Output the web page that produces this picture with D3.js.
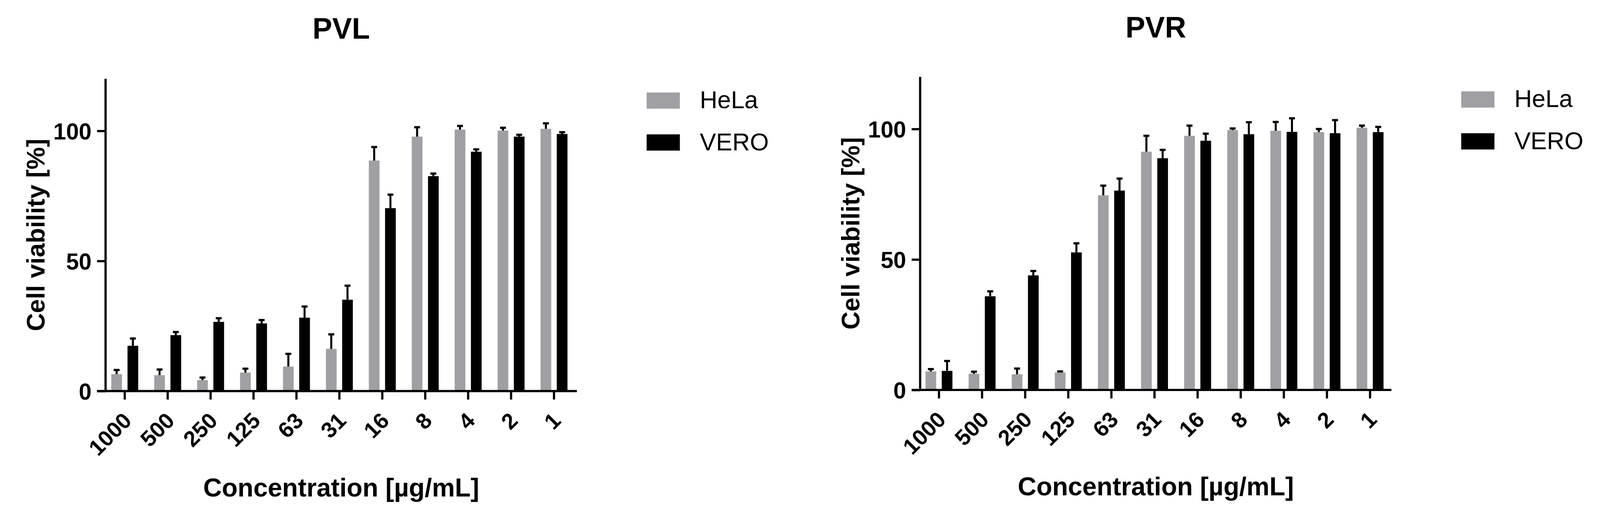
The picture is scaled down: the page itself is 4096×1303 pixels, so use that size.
<!DOCTYPE html>
<html>
<head>
<meta charset="utf-8">
<script src="https://cdn.jsdelivr.net/npm/d3@7"></script>
<style>
  html, body { margin: 0; padding: 0; background: #fff; }
  svg { display: block; }
  text { font-family: "Liberation Sans", Arial, Helvetica, sans-serif; }
</style>
</head>
<body>
<svg id="chart" width="4096" height="1303"></svg>
<script>
// ---------------- data ----------------
const concentrations = ["1000", "500", "250", "125", "63", "31", "16", "8", "4", "2", "1"];
const seriesNames = ["HeLa", "VERO"];
const seriesColors = ["#a0a0a4", "#000000"];
const yTicks = [0, 50, 100];

const pvlHeLa    = [6.5, 6.1, 4.2, 7.1, 9.4, 16.2, 88.6, 97.8, 100.5, 100.1, 100.8];
const pvlHeLaErr = [1.6, 2.2, 1.0, 1.5, 4.9, 5.6, 5.2, 3.6, 1.4, 1.1, 2.1];
const pvlVero    = [17.4, 21.5, 26.6, 26.0, 28.2, 35.1, 70.3, 82.6, 92.0, 97.8, 98.8];
const pvlVeroErr = [2.8, 1.2, 1.4, 1.3, 4.3, 5.4, 5.2, 1.0, 0.9, 0.7, 0.7];

const pvrHeLa    = [7.1, 6.2, 6.0, 6.7, 74.6, 91.3, 97.4, 99.6, 99.3, 98.8, 100.5];
const pvrHeLaErr = [0.9, 0.8, 2.2, 0.4, 3.7, 6.1, 3.9, 0.6, 3.4, 1.2, 0.8];
const pvrVero    = [7.3, 35.9, 43.9, 52.7, 76.4, 88.8, 95.5, 98.0, 98.9, 98.4, 98.8];
const pvrVeroErr = [3.8, 1.9, 1.7, 3.5, 4.6, 3.2, 2.7, 4.6, 5.2, 5.0, 2.0];

const panels = [
  { title: "PVL", values: [pvlHeLa, pvlVero], errors: [pvlHeLaErr, pvlVeroErr],
    axisX: 286, y0: 1059.5, y100: 354.6, firstCenter: 338, step: 116.3, axisEnd: 1563 },
  { title: "PVR", values: [pvrHeLa, pvrVero], errors: [pvrHeLaErr, pvrVeroErr],
    axisX: 2493, y0: 1056.5, y100: 349.5, firstCenter: 2544, step: 116.8, axisEnd: 3770 }
];

// ---------------- drawing ----------------
const REF_W = 4335;
const S = 4096 / REF_W;
const svg = d3.select("#chart");
const root = svg.append("g").attr("transform", `scale(${S})`);

const LW = 6;        // axis line width
const TICK = 23;     // tick length
const BAR_W = 29, BAR_GAP = 15;

panels.forEach(p => {
  const g = root.append("g");
  const yMaxPx = p.y0 - (p.y0 - p.y100) * 1.2;
  const y = d3.scaleLinear().domain([0, 120]).range([p.y0, yMaxPx]);

  const x0 = p.firstCenter - p.step / 2;
  const x = d3.scaleBand().domain(concentrations)
    .range([x0, x0 + concentrations.length * p.step]).padding(0);

  const innerStep = BAR_W + BAR_GAP;
  const pIn = BAR_GAP / innerStep;
  const pOut = (p.step / innerStep - 2 + pIn) / 2;
  const xs = d3.scaleBand().domain(seriesNames).range([0, x.bandwidth()])
    .paddingInner(pIn).paddingOuter(pOut);

  // bars
  seriesNames.forEach((s, si) => {
    const data = concentrations.map((c, i) => ({ c, v: p.values[si][i], e: p.errors[si][i] }));
    g.append("g").selectAll("rect").data(data).join("rect")
      .attr("x", d => x(d.c) + xs(s))
      .attr("width", xs.bandwidth())
      .attr("y", d => y(d.v))
      .attr("height", d => y(0) - y(d.v))
      .attr("fill", seriesColors[si]);

    // error bars (upper only, Prism style)
    const eg = g.append("g").attr("stroke", "#000");
    eg.selectAll("line.stem").data(data).join("line")
      .attr("class", "stem")
      .attr("x1", d => x(d.c) + xs(s) + xs.bandwidth() / 2)
      .attr("x2", d => x(d.c) + xs(s) + xs.bandwidth() / 2)
      .attr("y1", d => y(d.v))
      .attr("y2", d => y(d.v + d.e))
      .attr("stroke-width", 5.5);
    eg.selectAll("line.cap").data(data).join("line")
      .attr("class", "cap")
      .attr("x1", d => x(d.c) + xs(s) + xs.bandwidth() / 2 - 8)
      .attr("x2", d => x(d.c) + xs(s) + xs.bandwidth() / 2 + 8)
      .attr("y1", d => y(d.v + d.e))
      .attr("y2", d => y(d.v + d.e))
      .attr("stroke-width", 6);
  });

  // y axis
  const yAxis = d3.axisLeft(y).tickValues(yTicks).tickSize(TICK).tickSizeOuter(0).tickPadding(15);
  const ya = g.append("g").attr("transform", `translate(${p.axisX},0)`).call(yAxis);
  ya.select(".domain").remove();
  ya.selectAll(".tick line").attr("stroke", "#000").attr("stroke-width", LW);
  ya.selectAll(".tick text").attr("font-size", 62).attr("font-weight", "bold").attr("fill", "#000")
    .attr("dy", "0.36em");
  g.append("line").attr("x1", p.axisX).attr("x2", p.axisX)
    .attr("y1", y(0) + LW / 2).attr("y2", y(120))
    .attr("stroke", "#000").attr("stroke-width", LW);

  // x axis
  const xAxis = d3.axisBottom(x).tickSize(TICK).tickSizeOuter(0).tickPadding(0);
  const xa = g.append("g").attr("transform", `translate(0,${p.y0})`).call(xAxis);
  xa.select(".domain").remove();
  xa.selectAll(".tick line").attr("stroke", "#000").attr("stroke-width", LW);
  xa.selectAll(".tick text")
    .attr("font-size", 60).attr("font-weight", "bold").attr("fill", "#000")
    .attr("text-anchor", "end")
    .attr("y", 0).attr("dy", 0)
    .attr("transform", "translate(22,84) rotate(-45)");
  g.append("line").attr("x1", p.axisX - TICK).attr("x2", p.axisEnd)
    .attr("y1", p.y0).attr("y2", p.y0)
    .attr("stroke", "#000").attr("stroke-width", LW);

  const cx = (p.axisX + p.axisEnd) / 2;
  // title
  g.append("text").attr("x", cx).attr("y", p.y0 - 955)
    .attr("text-anchor", "middle").attr("font-size", 80).attr("font-weight", "bold")
    .text(p.title);

  // y axis title
  const cy = (y(0) + y(120)) / 2;
  g.append("text")
    .attr("transform", `translate(${p.axisX - 165},${cy}) rotate(-90)`)
    .attr("text-anchor", "middle").attr("font-size", 68).attr("font-weight", "bold")
    .text("Cell viability [%]");

  // x axis title
  g.append("text").attr("x", cx).attr("y", p.y0 + 286)
    .attr("text-anchor", "middle").attr("font-size", 70).attr("font-weight", "bold")
    .text("Concentration [µg/mL]");

  // legend
  const lg = g.append("g").attr("transform", `translate(${p.axisX + 1466},${p.y0 - 809})`);
  seriesNames.forEach((s, si) => {
    lg.append("rect").attr("x", 0).attr("y", si * 113.5).attr("width", 90).attr("height", 44)
      .attr("fill", seriesColors[si]);
    lg.append("text").attr("x", 144).attr("y", si * 113.5 + 43)
      .attr("font-size", 66).attr("fill", "#000").text(s);
  });
});
</script>
</body>
</html>
